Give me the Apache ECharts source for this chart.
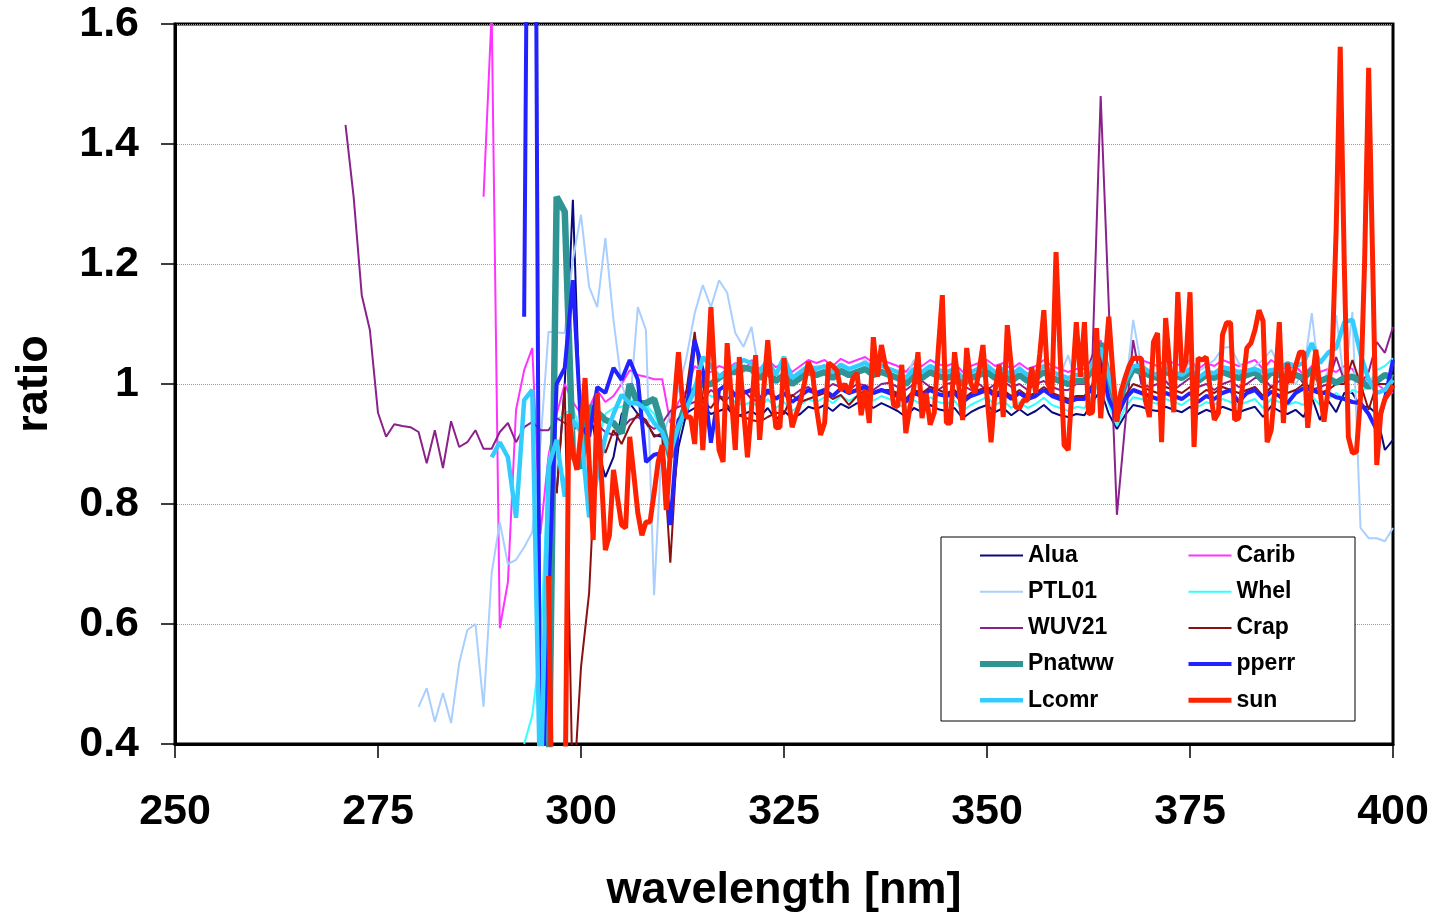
<!DOCTYPE html>
<html><head><meta charset="utf-8">
<script src="https://cdn.jsdelivr.net/npm/echarts@6/dist/echarts.min.js"></script>
<style>html,body{margin:0;padding:0;background:#fff}#c{width:1435px;height:914px}</style>
</head><body><div id="c"></div>
<script>
// ---- tick labels ----
const xTicks = [250, 275, 300, 325, 350, 375, 400];
const yTicks = [0.4, 0.6, 0.8, 1, 1.2, 1.4, 1.6];
const seriesNames = ['Alua','Carib','PTL01','Whel','WUV21','Crap','Pnatww','pperr','Lcomr','sun'];

// ---- data: start wavelength (nm), step (nm), ratio values ----
const aluaStart = 297, aluaStep = 1;
const aluaValues = [
 0.818,1.0,1.307,0.90,0.96,0.895,0.845,0.878,0.95,0.968,
 0.95,0.935,0.915,0.912,0.768,0.895,0.952,0.96,0.962,0.95,
 0.955,0.96,0.945,0.95,0.955,0.945,0.96,0.94,0.955,0.943,
 0.95,0.962,0.958,0.965,0.955,0.967,0.96,0.968,0.972,0.96,
 0.968,0.962,0.955,0.945,0.96,0.953,0.965,0.958,0.955,0.96,
 0.943,0.953,0.96,0.965,0.953,0.96,0.948,0.958,0.948,0.955,
 0.965,0.953,0.948,0.945,0.95,0.948,0.97,0.99,0.95,0.925,
 0.948,0.965,0.962,0.957,0.955,0.962,0.957,0.953,0.962,0.95,
 0.957,0.952,0.962,0.957,0.953,0.958,0.962,0.945,0.963,0.955,
 0.95,0.957,0.945,0.978,0.94,0.973,0.953,0.985,0.985,0.962,
 0.962,0.95,0.89,0.907];

const caribStart = 288, caribStep = 1;
const caribValues = [
 1.312,1.62,0.593,0.67,0.957,1.023,1.06,0.75,0.88,0.95,
 1.0,0.97,0.95,0.96,0.99,0.97,0.98,1.0,1.023,1.015,
 1.012,1.008,1.008,0.935,0.97,0.99,1.03,1.02,1.02,1.03,
 1.025,1.035,1.02,1.04,1.025,1.04,1.028,1.035,1.02,1.03,
 1.04,1.035,1.04,1.03,1.042,1.035,1.04,1.045,1.035,1.04,
 1.035,1.03,1.02,1.035,1.03,1.04,1.033,1.03,1.035,1.02,
 1.03,1.035,1.04,1.03,1.035,1.025,1.035,1.025,1.03,1.04,
 1.03,1.025,1.02,1.025,1.025,1.045,1.073,1.02,0.95,1.01,
 1.04,1.04,1.035,1.03,1.04,1.035,1.03,1.04,1.025,1.035,
 1.03,1.04,1.035,1.03,1.035,1.04,1.025,1.04,1.03,1.025,
 1.03,1.015,1.03,1.02,1.025,1.02,1.03,1.025,1.0,1.01,
 1.0,0.99,0.985];

const ptl01Start = 280, ptl01Step = 1;
const ptl01Values = [
 0.462,0.493,0.437,0.485,0.435,0.535,0.59,0.60,0.462,0.685,
 0.77,0.70,0.707,0.728,0.753,0.9,1.087,1.086,1.085,1.207,
 1.282,1.162,1.128,1.243,1.107,1.0,0.96,1.128,1.09,0.648,
 0.912,0.95,0.99,1.045,1.118,1.165,1.128,1.173,1.152,1.085,
 1.062,1.095,1.012,1.023,1.0,1.02,1.015,1.01,1.025,1.03,
 1.03,1.02,1.03,1.025,1.03,1.04,1.025,1.03,1.025,1.02,
 1.01,1.04,1.02,1.03,1.025,1.02,1.025,1.01,1.02,1.03,
 1.035,1.02,1.025,1.015,1.03,1.015,1.02,1.03,1.02,1.015,
 1.048,1.0,1.0,1.03,1.05,1.0,0.95,0.98,1.107,1.03,
 1.01,1.02,1.03,1.02,1.01,1.04,1.02,1.03,1.04,1.06,
 1.062,1.035,1.02,1.03,1.04,1.057,1.03,1.01,1.0,1.02,
 1.118,1.0,1.02,1.115,1.0,1.12,0.76,0.743,0.743,0.738,
 0.76];

const whelStart = 293, whelStep = 1;
const whelValues = [
 0.40,0.448,0.56,0.87,0.94,0.95,0.96,0.92,0.78,0.90,
 0.95,0.96,0.962,0.97,0.975,0.965,0.95,0.92,0.873,0.92,
 0.97,1.0,0.985,0.98,0.975,0.98,0.97,0.965,0.97,0.96,
 0.975,0.96,0.97,0.955,0.965,0.975,0.97,0.978,0.968,0.98,
 0.972,0.98,0.985,0.972,0.98,0.975,0.968,0.958,0.973,0.965,
 0.978,0.97,0.967,0.972,0.955,0.965,0.972,0.978,0.965,0.972,
 0.96,0.97,0.96,0.967,0.977,0.965,0.96,0.955,0.962,0.96,
 0.98,1.01,0.965,0.93,0.96,0.978,0.975,0.97,0.967,0.975,
 0.97,0.965,0.975,0.962,0.97,0.965,0.975,0.97,0.965,0.97,
 0.975,0.96,0.975,0.97,0.965,0.97,0.965,0.98,0.965,0.975,
 0.985,0.975,0.99,0.985,1.0,1.023,1.03,1.043];

const wuv21Start = 271, wuv21Step = 1;
const wuv21Values = [
 1.432,1.312,1.148,1.09,0.952,0.912,0.933,0.93,0.928,0.92,
 0.868,0.923,0.86,0.938,0.895,0.903,0.923,0.892,0.892,0.92,
 0.935,0.903,0.928,0.937,0.923,0.923,0.943,0.935,0.925,0.93,
 0.945,0.932,0.92,0.915,0.925,0.94,0.945,0.935,0.925,0.935,
 0.955,0.962,0.965,0.97,0.975,0.99,0.98,0.975,0.985,0.99,
 0.975,0.97,0.985,0.978,0.985,0.98,0.99,0.995,0.985,0.99,
 1.0,0.995,0.99,1.0,0.998,0.99,1.0,1.002,0.995,0.99,
 1.0,1.005,0.995,0.99,1.0,1.003,0.998,0.99,1.0,0.99,
 1.0,1.005,0.995,1.0,0.99,1.0,1.005,0.995,0.99,0.99,
 1.0,1.0,1.05,1.48,1.13,0.782,0.93,1.073,1.0,0.995,
 1.0,1.005,0.99,1.0,1.01,0.995,1.0,0.99,1.0,1.005,
 0.995,1.0,1.01,1.01,0.995,1.005,1.0,1.02,1.0,0.99,
 0.995,1.0,1.045,1.005,1.01,1.0,1.02,1.07,1.052,1.095];

const crapStart = 297, crapStep = 1;
const crapValues = [
 0.818,0.995,0.30,0.528,0.652,0.93,0.885,0.923,0.90,0.93,
 0.95,0.94,0.912,0.918,0.702,0.93,0.99,1.087,0.97,0.96,
 0.98,0.965,0.95,0.945,0.94,0.937,0.945,0.952,0.95,0.982,
 0.97,0.975,0.98,0.985,0.975,0.982,0.965,0.98,0.99,0.985,
 0.99,0.99,0.985,0.975,0.99,0.985,0.995,0.99,0.985,0.99,
 0.975,0.985,0.99,0.995,0.985,0.99,0.98,0.99,0.98,0.985,
 0.995,0.985,0.98,0.975,0.98,0.98,1.0,1.045,0.98,0.94,
 0.98,1.0,0.995,0.99,0.985,0.995,0.99,0.985,0.995,0.98,
 0.99,0.985,0.995,0.99,0.985,0.99,0.995,0.98,0.995,0.99,
 0.985,0.99,1.0,0.995,0.985,0.99,1.0,1.0,1.04,1.0,
 0.957,1.0,1.0,1.0];

const pnatwwStart = 296, pnatwwStep = 1;
const pnatwwValues = [
 0.3,1.312,1.287,0.88,0.86,0.962,0.953,0.94,0.935,0.918,
 1.0,0.968,0.968,0.975,0.93,0.878,0.93,0.97,0.99,1.0,
 1.0,1.01,1.02,1.02,1.027,1.025,1.01,1.02,1.005,1.015,
 1.0,1.01,1.02,1.015,1.02,1.01,1.022,1.015,1.02,1.025,
 1.015,1.02,1.015,1.01,1.0,1.015,1.01,1.02,1.013,1.01,
 1.015,1.0,1.01,1.015,1.02,1.01,1.015,1.005,1.015,1.005,
 1.01,1.02,1.01,1.005,1.0,1.005,1.005,1.025,1.068,1.01,
 0.96,1.0,1.025,1.02,1.015,1.01,1.02,1.015,1.01,1.02,
 1.005,1.015,1.01,1.02,1.015,1.01,1.015,1.02,1.005,1.02,
 1.015,1.01,1.015,1.01,1.023,1.005,1.01,1.002,1.01,1.012,
 1.005,0.995,1.005,1.015,1.01];

const pperrStart = 293, pperrStep = 1;
const pperrValues = [
 1.112,3.0,0.2,0.65,1.0,1.027,1.173,0.93,0.912,0.995,
 0.985,1.027,1.007,1.04,1.007,0.87,0.882,0.885,0.765,0.94,
 0.952,1.073,1.023,0.902,0.99,1.0,0.98,0.985,0.99,0.975,
 0.99,0.975,0.985,0.97,0.98,0.99,0.985,0.99,0.98,0.992,
 0.985,0.99,0.995,0.985,0.99,0.985,0.98,0.97,0.985,0.98,
 0.99,0.983,0.98,0.985,0.97,0.98,0.985,0.99,0.98,0.985,
 0.975,0.985,0.975,0.98,0.99,0.98,0.975,0.97,0.975,0.975,
 0.995,1.035,0.975,0.945,0.975,0.99,0.985,0.98,0.975,0.985,
 0.98,0.975,0.985,0.97,0.98,0.975,0.985,0.99,0.97,0.985,
 0.99,0.975,0.987,0.98,0.968,0.985,0.993,0.99,0.985,0.985,
 0.978,0.975,0.97,0.968,0.95,0.923,0.975,1.04];

const lcomrStart = 289, lcomrStep = 1;
const lcomrValues = [
 0.878,0.903,0.878,0.777,0.973,0.99,0.3,0.862,0.907,0.812,
 0.94,0.92,0.778,0.848,0.912,0.95,0.982,0.968,0.968,0.957,
 0.935,0.92,0.885,0.93,0.96,0.99,1.045,1.03,1.012,1.02,
 1.03,1.04,1.035,1.02,1.04,1.015,1.045,1.01,1.02,1.03,
 1.025,1.03,1.02,1.032,1.025,1.03,1.035,1.025,1.03,1.025,
 1.02,1.01,1.025,1.02,1.03,1.023,1.02,1.025,1.01,1.02,
 1.025,1.03,1.02,1.025,1.015,1.025,1.015,1.02,1.03,1.02,
 1.015,1.01,1.015,1.015,1.035,1.06,1.015,0.965,1.005,1.03,
 1.03,1.02,1.015,1.025,1.02,1.015,1.025,1.01,1.02,1.018,
 1.028,1.025,1.02,1.022,1.025,1.02,1.023,1.025,1.035,1.03,
 1.035,1.068,1.035,1.052,1.06,1.103,1.107,1.05,1.007,0.985,
 0.99,1.007];

const sunStart = 296, sunStep = 0.5;
const sunValues = [
 0.68,0.2,0.1,0.1,0.25,0.95,0.885,0.857,0.92,1.01,
 0.87,0.74,0.985,0.85,0.723,0.748,0.857,0.81,0.765,0.76,
 0.912,0.85,0.785,0.748,0.77,0.77,0.818,0.87,0.898,0.79,
 0.885,0.97,1.053,0.97,0.945,0.945,0.90,1.023,0.89,1.0,
 1.128,1.0,0.89,0.87,1.068,0.98,0.89,1.045,0.96,0.878,
 0.96,1.048,0.907,0.99,1.073,0.99,0.927,0.928,1.043,0.98,
 0.928,0.95,0.97,1.0,1.037,1.02,0.96,0.915,0.935,1.035,
 1.03,1.023,0.99,1.0,0.985,1.01,1.018,0.948,0.99,0.935,
 1.078,1.012,1.065,1.03,1.018,0.965,0.962,1.032,0.918,0.96,
 0.995,1.053,0.943,0.985,0.932,0.952,1.057,1.148,0.935,0.935,
 1.053,1.0,0.94,1.06,1.002,0.985,1.02,1.065,0.98,0.903,
 0.99,1.032,0.945,1.098,1.028,0.962,0.96,0.973,0.973,1.028,
 0.985,1.05,1.123,1.0,0.985,1.22,1.05,0.898,0.89,1.0,
 1.103,1.012,1.103,0.95,0.953,1.093,0.943,1.03,1.112,1.02,
 0.937,0.987,1.01,1.03,1.043,1.043,1.043,0.973,0.945,1.07,
 1.085,0.903,1.11,1.03,0.953,1.153,1.02,1.037,1.153,0.895,
 1.043,1.04,1.045,0.99,0.94,0.952,1.082,1.102,1.102,0.94,
 0.943,1.0,1.06,1.068,1.09,1.123,1.105,0.903,0.923,1.0,
 1.103,0.935,1.035,1.002,1.03,1.053,1.053,0.927,1.0,1.057,
 0.99,0.937,0.99,1.043,1.257,1.562,1.2,0.912,0.885,0.887,
 0.978,1.202,1.527,1.2,0.865,0.952,0.975,0.985,0.998];

// ---- styling (not data) ----
const FONT = 'Liberation Sans, Arial, sans-serif';
const styles = {
  Alua:   {color:'#0a0a80', width:2},
  Carib:  {color:'#ff33ff', width:2},
  PTL01:  {color:'#a9cfff', width:2},
  Whel:   {color:'#33ffff', width:2},
  WUV21:  {color:'#8b228b', width:2},
  Crap:   {color:'#8b1010', width:2},
  Pnatww: {color:'#2e9494', width:6.5},
  pperr:  {color:'#2222ff', width:4},
  Lcomr:  {color:'#33ccff', width:4.5},
  sun:    {color:'#ff2200', width:5}
};
const dataSets = {
  Alua:[aluaStart,aluaStep,aluaValues], Carib:[caribStart,caribStep,caribValues],
  PTL01:[ptl01Start,ptl01Step,ptl01Values], Whel:[whelStart,whelStep,whelValues],
  WUV21:[wuv21Start,wuv21Step,wuv21Values], Crap:[crapStart,crapStep,crapValues],
  Pnatww:[pnatwwStart,pnatwwStep,pnatwwValues], pperr:[pperrStart,pperrStep,pperrValues],
  Lcomr:[lcomrStart,lcomrStep,lcomrValues], sun:[sunStart,sunStep,sunValues]
};
function pairs(start, step, vals){ return vals.map((v,i)=>[+(start+i*step).toFixed(2), v]); }

const series = seriesNames.map((n,i)=>{
  const [s,st,v] = dataSets[n];
  return {
    name:n, type:'line', data:pairs(s,st,v), symbol:'none', showSymbol:false,
    clip:true, z:2+i, animation:false,
    lineStyle:{color:styles[n].color, width:styles[n].width},
    itemStyle:{color:styles[n].color}
  };
});

function legendItems(names){
  return names.map(n=>({name:n, lineStyle:{width:Math.min(styles[n].width, 6), color:styles[n].color},
    itemStyle:{opacity:0}}));
}
const legendBase = {
  orient:'vertical', top:544, padding:0, itemWidth:43, itemHeight:20, itemGap:13.2,
  itemStyle:{opacity:0, borderWidth:0},
  textStyle:{fontFamily:FONT, fontWeight:'bold', fontSize:23, color:'#000', padding:[0,0,0,0]},
  selectedMode:false, z:100
};

const chart = echarts.init(document.getElementById('c'), null, {renderer:'canvas'});
chart.setOption({
  backgroundColor:'#fff',
  animation:false,
  grid:{left:175, right:42, top:24, bottom:170, outerBoundsMode:'none', containLabel:false,
    show:true, borderColor:'#000', borderWidth:3},
  xAxis:{
    type:'value', min:xTicks[0], max:xTicks[xTicks.length-1], interval:25,
    axisLine:{show:true, onZero:false, lineStyle:{color:'#000', width:3}},
    axisTick:{show:true, length:14, lineStyle:{color:'#000', width:1.5}},
    axisLabel:{fontFamily:FONT, fontWeight:'bold', fontSize:43, color:'#000', margin:47},
    splitLine:{show:false},
    name:'wavelength [nm]', nameLocation:'middle', nameGap:124,
    nameTextStyle:{fontFamily:FONT, fontWeight:'bold', fontSize:45, color:'#000'}
  },
  yAxis:{
    type:'value', min:yTicks[0], max:yTicks[yTicks.length-1], interval:0.2,
    axisLine:{show:true, onZero:false, lineStyle:{color:'#000', width:3}},
    axisTick:{show:true, length:14, lineStyle:{color:'#000', width:1.5}},
    axisLabel:{fontFamily:FONT, fontWeight:'bold', fontSize:43, color:'#000', margin:36,
      formatter:v=>String(+(+v).toFixed(1))},
    splitLine:{show:true, lineStyle:{color:'#9a9a9a', type:'dotted', width:1}},
    name:'ratio', nameLocation:'middle', nameGap:118,
    nameTextStyle:{fontFamily:FONT, fontWeight:'bold', fontSize:45, color:'#000'}
  },
  legend:[
    Object.assign({}, legendBase, {left:977, data:legendItems(['Alua','PTL01','WUV21','Pnatww','Lcomr'])}),
    Object.assign({}, legendBase, {left:1186, data:legendItems(['Carib','Whel','Crap','pperr','sun'])})
  ],
  graphic:[{type:'rect', z:50, shape:{x:941, y:537, width:414, height:184},
    style:{fill:'#fff', stroke:'#000', lineWidth:1}}],
  series:series
});
</script></body></html>
